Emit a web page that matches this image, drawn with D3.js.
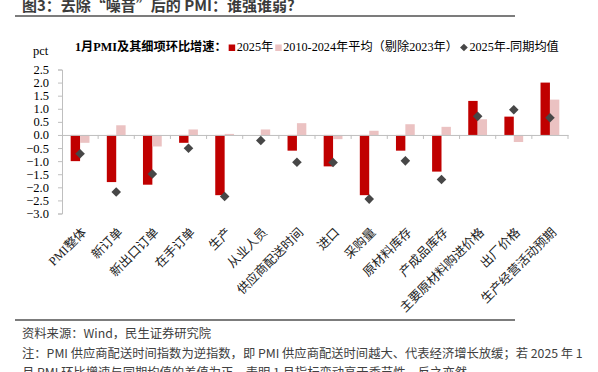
<!DOCTYPE html>
<html>
<head>
<meta charset="utf-8">
<script src="https://cdn.jsdelivr.net/npm/d3@7"></script>
<style>
	body { margin: 0; background: #fff; }
	svg { display: block; }
	.serif { font-family: 'Liberation Serif', 'Times New Roman', 'Noto Sans CJK SC', serif; }
	.sans { font-family: 'Noto Sans CJK SC', 'Noto Sans', sans-serif; }
</style>
</head>
<body>
<svg id="viz" width="598" height="372"></svg>
<script>
var categories = [ 'PMI整体', '新订单', '新出口订单', '在手订单', '生产', '从业人员', '供应商配送时间',
	'进口', '采购量', '原材料库存', '产成品库存', '主要原材料购进价格', '出厂价格', '生产经营活动预期' ];
var values2025 = [ -1.0, -1.8, -1.9, -0.3, -2.3, 0.0, -0.6, -1.2, -2.3, -0.6, -1.4, 1.3, 0.7, 2.0 ];
var valuesAvg = [ -0.3, 0.37, -0.44, 0.21, 0.04, 0.21, 0.45, -0.16, 0.16, 0.41, 0.31, 0.6, -0.27, 1.35 ];
var valuesDiff = [ -0.72, -2.18, -1.49, -0.51, -2.35, -0.21, -1.04, -1.05, -2.45, -0.99, -1.7, 0.71, 0.96, 0.66 ];
var yTicks = [ 2.5, 2.0, 1.5, 1.0, 0.5, 0.0, -0.5, -1.0, -1.5, -2.0, -2.5, -3.0 ];
var seriesNames = [ '2025年', '2010-2024年平均（剔除2023年）', '2025年-同期均值' ];

var colors = { red: '#C00000', pink: '#EBC2C2', diamond: '#474747', axis: '#BFBFBF', text: '#404040' };

var svg = d3.select( '#viz' );

// title + rules
svg.append( 'text' )
	.attr( 'class', 'sans' )
	.attr( 'x', 22 )
	.attr( 'y', 11 )
	.attr( 'font-size', 15 )
	.attr( 'font-weight', 'bold' )
	.attr( 'fill', '#3c3c3c' )
	.text( '图3：去除“噪音”后的 PMI：谁强谁弱?' );
svg.append( 'line' )
	.attr( 'x1', 15 ).attr( 'x2', 515 ).attr( 'y1', 16 ).attr( 'y2', 16 )
	.attr( 'stroke', '#505050' ).attr( 'stroke-width', 1.5 );
svg.append( 'line' )
	.attr( 'x1', 15 ).attr( 'x2', 515 ).attr( 'y1', 320 ).attr( 'y2', 320 )
	.attr( 'stroke', '#505050' ).attr( 'stroke-width', 1.5 );

var x = d3.scaleBand().domain( categories ).range( [ 62, 568 ] ).padding( 0 );
var bw = x.bandwidth();
var x1 = d3.scaleBand().domain( [ 'a', 'b' ] ).range( [ bw * 0.24, bw * 0.76 ] );
var y = d3.scaleLinear().domain( [ -3.0, 2.5 ] ).range( [ 213.5, 69.5 ] );

// y axis
var yAxis = d3.axisLeft( y ).tickValues( yTicks ).tickFormat( d3.format( '.1f' ) ).tickSize( 4 ).tickPadding( 9 );
var gy = svg.append( 'g' ).attr( 'transform', 'translate(62,0)' ).call( yAxis );
gy.select( '.domain' ).attr( 'stroke', colors.axis );
gy.selectAll( '.tick line' ).attr( 'stroke', colors.axis );
gy.selectAll( '.tick text' )
	.attr( 'class', 'serif' )
	.attr( 'font-size', 12.5 )
	.attr( 'fill', '#000' );

svg.append( 'text' )
	.attr( 'class', 'serif' )
	.attr( 'x', 33 ).attr( 'y', 55 )
	.attr( 'font-size', 12.5 )
	.text( 'pct' );

// bars
var data = categories.map( function ( c, i ) {
	return { cat: c, a: values2025[i], b: valuesAvg[i], d: valuesDiff[i] };
} );

svg.append( 'g' ).selectAll( 'rect.a' )
	.data( data )
	.enter()
	.append( 'rect' )
	.attr( 'x', function ( d ) { return x( d.cat ) + x1( 'a' ); } )
	.attr( 'y', function ( d ) { return y( Math.max( 0, d.a ) ); } )
	.attr( 'width', x1.bandwidth() )
	.attr( 'height', function ( d ) { return Math.abs( y( d.a ) - y( 0 ) ); } )
	.style( 'fill', colors.red );

svg.append( 'g' ).selectAll( 'rect.b' )
	.data( data )
	.enter()
	.append( 'rect' )
	.attr( 'x', function ( d ) { return x( d.cat ) + x1( 'b' ); } )
	.attr( 'y', function ( d ) { return y( Math.max( 0, d.b ) ); } )
	.attr( 'width', x1.bandwidth() )
	.attr( 'height', function ( d ) { return Math.abs( y( d.b ) - y( 0 ) ); } )
	.style( 'fill', colors.pink );

// zero line with category ticks
var xAxis = d3.axisBottom( x ).tickSize( 0 ).tickFormat( '' );
var gx = svg.append( 'g' ).attr( 'transform', 'translate(0,' + y( 0 ) + ')' ).call( xAxis );
gx.select( '.domain' ).attr( 'stroke', colors.axis );
gx.selectAll( '.tick' ).remove();
gx.selectAll( 'line.sep' )
	.data( categories )
	.enter()
	.append( 'line' )
	.attr( 'x1', function ( d ) { return x( d ) + bw; } )
	.attr( 'x2', function ( d ) { return x( d ) + bw; } )
	.attr( 'y1', 0 ).attr( 'y2', 4 )
	.attr( 'stroke', colors.axis );

// diamonds
var diamond = d3.symbol().type( d3.symbolSquare ).size( 46 );
svg.append( 'g' ).selectAll( 'path' )
	.data( data )
	.enter()
	.append( 'path' )
	.attr( 'd', diamond )
	.attr( 'transform', function ( d ) {
		return 'translate(' + ( x( d.cat ) + bw / 2 ) + ',' + y( d.d ) + ') rotate(45)';
	} )
	.style( 'fill', colors.diamond );

// category labels
svg.append( 'g' ).selectAll( 'text' )
	.data( categories )
	.enter()
	.append( 'text' )
	.attr( 'class', 'serif' )
	.attr( 'font-size', 12.5 )
	.attr( 'text-anchor', 'end' )
	.attr( 'fill', '#222' )
	.attr( 'transform', function ( d ) {
		return 'translate(' + ( x( d ) + bw / 2 + 4 ) + ',230) rotate(-45)';
	} )
	.attr( 'dy', '0.35em' )
	.text( function ( d ) { return d; } );

// legend
var lg = svg.append( 'g' ).attr( 'class', 'serif' ).attr( 'font-size', 12.2 );
var lt = lg.append( 'text' )
	.attr( 'x', 75 ).attr( 'y', 51 )
	.attr( 'font-weight', 'bold' )
	.text( '1月PMI及其细项环比增速：' );
var lx = 75 + lt.node().getComputedTextLength() + 2;
var marks = [ colors.red, colors.pink, colors.diamond ];
seriesNames.forEach( function ( name, i ) {
	if ( i < 2 ) {
		lg.append( 'rect' )
			.attr( 'x', lx ).attr( 'y', 44.5 )
			.attr( 'width', 6.5 ).attr( 'height', 6.5 )
			.style( 'fill', marks[i] );
	} else {
		lg.append( 'path' )
			.attr( 'd', d3.symbol().type( d3.symbolSquare ).size( 30 ) )
			.attr( 'transform', 'translate(' + ( lx + 4 ) + ',47.5) rotate(45)' )
			.style( 'fill', marks[i] );
	}
	var t = lg.append( 'text' )
		.attr( 'x', lx + ( i < 2 ? 8 : 9.5 ) ).attr( 'y', 51 )
		.text( name );
	lx = lx + ( i < 2 ? 8 : 9.5 ) + t.node().getComputedTextLength() + 2;
} );

// footer
var notes = [
	'资料来源：Wind，民生证券研究院',
	'注：PMI 供应商配送时间指数为逆指数，即 PMI 供应商配送时间越大、代表经济增长放缓；若 2025 年 1',
	'月 PMI 环比增速与同期均值的差值为正，表明 1 月指标变动高于季节性，反之亦然。'
];
svg.append( 'g' ).selectAll( 'text' )
	.data( notes )
	.enter()
	.append( 'text' )
	.attr( 'class', 'sans' )
	.attr( 'x', 22 )
	.attr( 'y', function ( d, i ) { return 338 + i * 19.5; } )
	.attr( 'font-size', 12.3 )
	.attr( 'fill', colors.text )
	.text( function ( d ) { return d; } );
</script>
</body>
</html>
